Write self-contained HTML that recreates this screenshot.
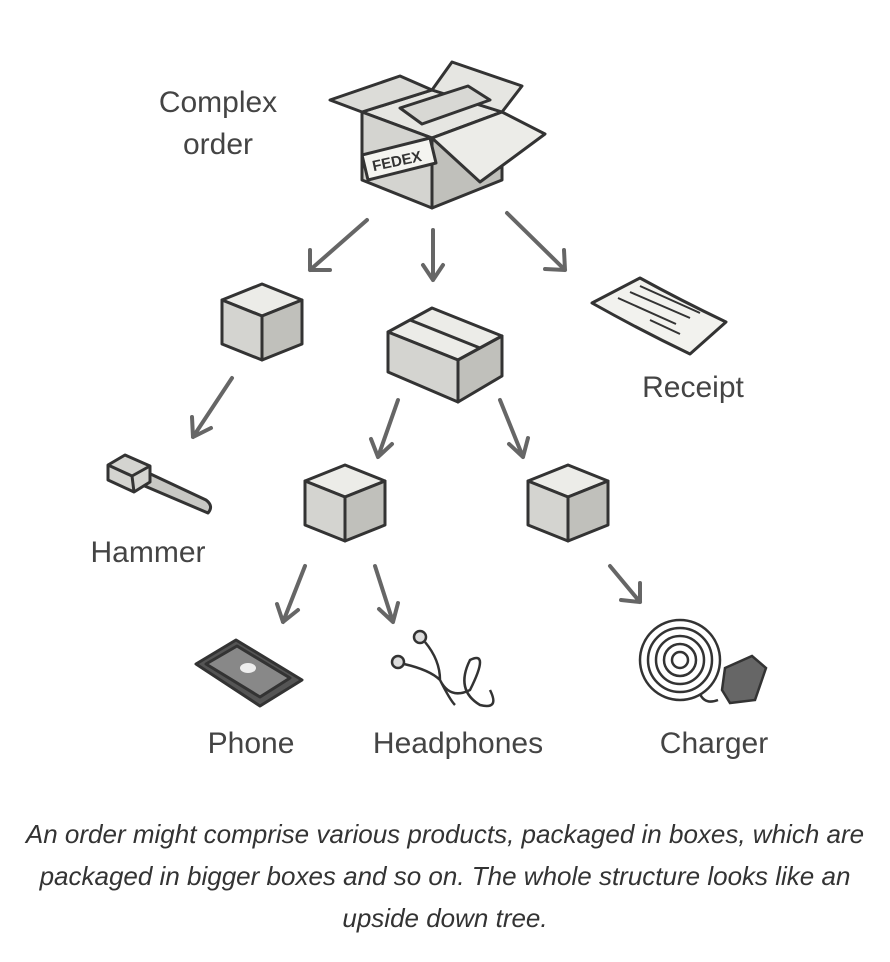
<!DOCTYPE html>
<html><head><meta charset="utf-8"><style>
html,body{margin:0;padding:0;background:#fff;width:890px;height:962px;overflow:hidden}
.cap{position:absolute;left:0;width:890px;text-align:center;font-family:"Liberation Sans",sans-serif;font-style:italic;font-size:26px;color:#333;line-height:42px;top:813px}
</style></head><body>
<svg width="890" height="800" style="position:absolute;left:0;top:0" xmlns="http://www.w3.org/2000/svg">
<defs>
<g id="cube">
<polygon points="0,-22 40,-38 80,-22 40,-6" fill="#ececE8" stroke="#333" stroke-width="3" stroke-linejoin="round"/>
<polygon points="0,-22 40,-6 40,38 0,22" fill="#d4d4d0" stroke="#333" stroke-width="3" stroke-linejoin="round"/>
<polygon points="40,-6 80,-22 80,22 40,38" fill="#c0c0bb" stroke="#333" stroke-width="3" stroke-linejoin="round"/>
</g>
</defs>
<g font-family="Liberation Sans, sans-serif" font-size="30" fill="#444" text-anchor="middle">
<text x="218" y="112">Complex</text><text x="218" y="154">order</text>
<text x="693" y="397">Receipt</text>
<text x="148" y="562">Hammer</text>
<text x="251" y="753">Phone</text>
<text x="458" y="753">Headphones</text>
<text x="714" y="753">Charger</text>
</g>
<g stroke="#666" stroke-width="4" fill="none" stroke-linecap="round" stroke-linejoin="round">
<path d="M367,220 L310,270 M310,250 L310,270 L330,270"/>
<path d="M433,230 L433,280 M423,265 L433,280 L443,265"/>
<path d="M507,213 L565,270 M545,269 L565,270 L564,250"/>
<path d="M232,378 L193,437 M192,417 L193,437 L211,428"/>
<path d="M398,400 L378,457 M371,439 L378,457 L392,444"/>
<path d="M500,400 L523,457 M509,444 L523,457 L528,438"/>
<path d="M305,566 L283,622 M277,604 L283,622 L298,610"/>
<path d="M375,566 L393,622 M379,609 L393,622 L398,603"/>
<path d="M610,566 L640,602 M621,600 L640,602 L640,583"/>
</g>
<g stroke="#333" stroke-width="3" stroke-linejoin="round">
<polygon points="362,112 432,90 502,112 432,138" fill="#e6e6e2"/>
<polygon points="362,112 432,138 432,208 362,180" fill="#d4d4d0"/>
<polygon points="432,138 502,112 502,180 432,208" fill="#c0c0bb"/>
<polygon points="362,112 330,100 400,76 432,90" fill="#dcdcd8"/>
<polygon points="432,90 452,62 522,86 502,112" fill="#e6e6e2"/>
<polygon points="502,112 545,134 480,182 432,138" fill="#ececE8"/>
<polygon points="400,108 468,86 490,100 422,124" fill="#d8d8d4"/>
<polygon points="362,155 430,138 436,163 368,180" fill="#f4f4f0"/>
</g>
<text x="398" y="166" font-family="Liberation Sans, sans-serif" font-size="15" font-weight="bold" fill="#333" transform="rotate(-12 398 166)" text-anchor="middle">FEDEX</text>
<use href="#cube" x="222" y="322"/>
<use href="#cube" x="305" y="503"/>
<use href="#cube" x="528" y="503"/>
<g stroke="#333" stroke-width="3" stroke-linejoin="round">
<polygon points="388,332 432,308 502,336 458,360" fill="#ececE8"/>
<polygon points="388,332 458,360 458,402 388,372" fill="#d4d4d0"/>
<polygon points="458,360 502,336 502,376 458,402" fill="#c0c0bb"/>
<line x1="410" y1="320" x2="480" y2="348"/>
</g>
<g stroke="#333" stroke-width="3" fill="#f2f2ee" stroke-linejoin="round">
<path d="M592,303 L640,278 Q680,300 726,322 L690,354 Q640,330 592,303Z"/>
<path d="M618,298 L676,324 M630,292 L690,318 M640,286 L700,313 M650,320 L680,334" fill="none" stroke-width="2"/>
</g>
<g stroke="#333" stroke-width="3" stroke-linejoin="round">
<path d="M142,470 L206,500 Q214,506 208,513 L140,484Z" fill="#c8c8c4"/>
<polygon points="108,465 125,455 150,466 150,482 134,492 108,480" fill="#d4d4d0"/>
<path d="M108,465 L132,476 L150,466 M132,476 L134,492" fill="none"/>
</g>
<g stroke="#333" stroke-width="3" stroke-linejoin="round">
<polygon points="196,664 236,640 302,680 260,706" fill="#555"/>
<polygon points="206,664 237,646 290,678 260,697" fill="#888"/>
<ellipse cx="248" cy="668" rx="8" ry="5" fill="#eee" stroke="none"/>
</g>
<g stroke="#333" stroke-width="2.5" fill="none">
<circle cx="420" cy="637" r="6" fill="#ddd"/><circle cx="398" cy="662" r="6" fill="#ddd"/>
<path d="M425,642 Q440,660 440,680 M404,664 Q430,670 440,680 Q450,700 470,690 Q490,650 470,660 Q455,690 480,705 Q500,710 490,690 M440,680 Q450,700 455,705"/>
</g>
<g stroke="#333" stroke-width="2.5" fill="none">
<circle cx="680" cy="660" r="40"/><circle cx="680" cy="660" r="32"/><circle cx="680" cy="660" r="24"/><circle cx="680" cy="660" r="16"/><circle cx="680" cy="660" r="8"/>
<path d="M700,694 Q705,705 718,700"/>
<polygon points="725,668 752,656 766,668 755,700 730,703 722,690" fill="#666"/>
</g>
</svg>
<div class="cap">An order might comprise various products, packaged in boxes, which are<br>packaged in bigger boxes and so on. The whole structure looks like an<br>upside down tree.</div>
</body></html>
